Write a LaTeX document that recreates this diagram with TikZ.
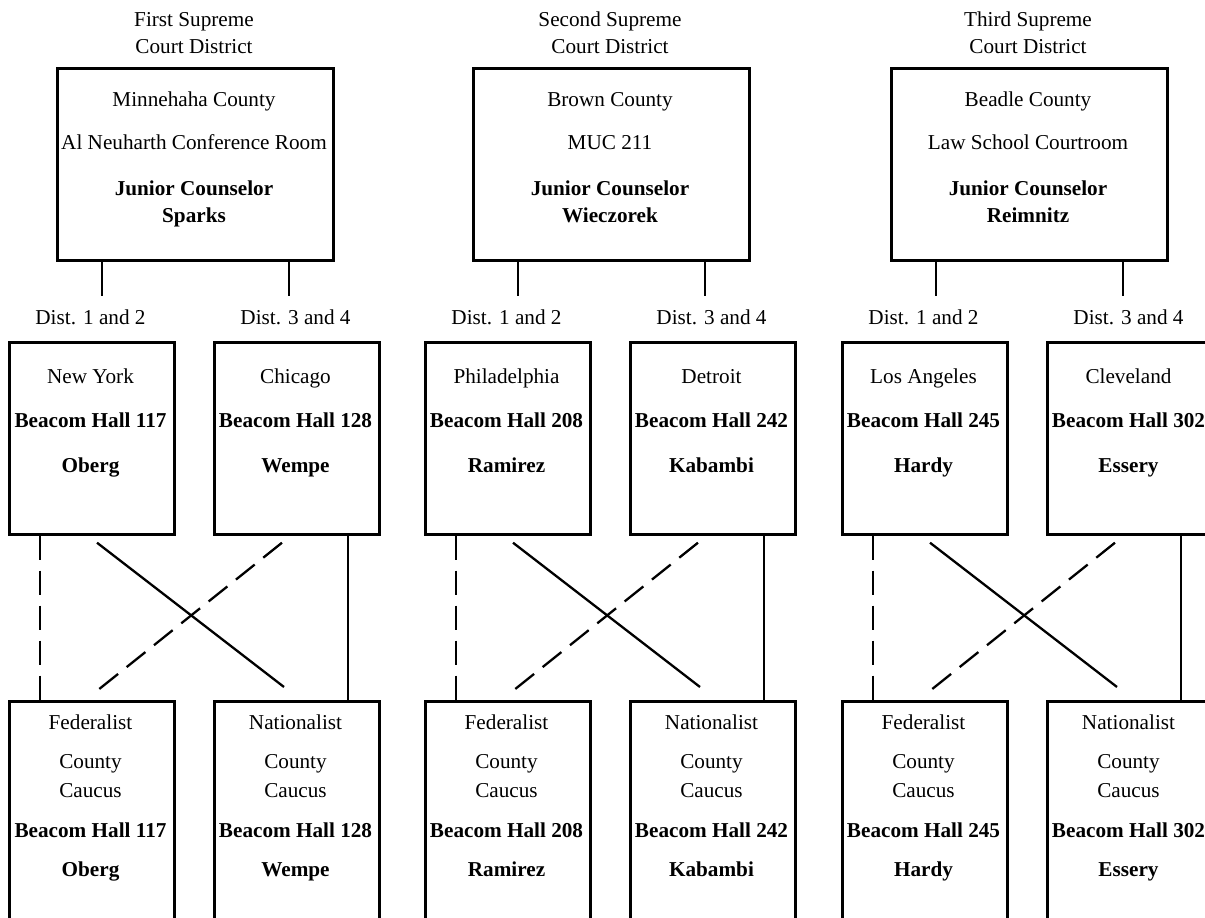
\documentclass[tikz,border=0pt]{standalone}
\usepackage{fontspec}
\setmainfont{Liberation Serif}
\begin{document}
\begin{tikzpicture}[x=1pt,y=-1pt,
  box/.style={draw, line width=2.7pt, inner sep=0pt, anchor=north west},
  topbox/.style={box, minimum width=276pt, minimum height=192pt},
  midbox/.style={box, minimum width=165pt, minimum height=192pt},
  botbox/.style={box, minimum width=165pt, minimum height=280pt},
  txt/.style={anchor=base, inner sep=0pt, font=\fontsize{21.2}{24}\selectfont},
  btxt/.style={anchor=base, inner sep=0pt, font=\fontsize{21.2}{24}\selectfont\bfseries},
  link/.style={line width=2.3pt},
  dlink/.style={line width=2.3pt, dash pattern=on 24pt off 11pt}]
\useasboundingbox (0,0) rectangle (1205,918);
\clip (0,0) rectangle (1205,918);
\foreach \g/\T/\M/\ord/\cty/\room/\jc/\cA/\rA/\nA/\cB/\rB/\nB in {
  1/56/8/First/Minnehaha County/Al Neuharth Conference Room/Sparks/New York/117/Oberg/Chicago/128/Wempe,
  2/472/424/Second/Brown County/MUC 211/Wieczorek/Philadelphia/208/Ramirez/Detroit/242/Kabambi,
  3/890/841/Third/Beadle County/Law School Courtroom/Reimnitz/Los Angeles/245/Hardy/Cleveland/302/Essery}{
  % titles
  \node[txt] (title\g a) at (\T+138,26) {\ord{} Supreme};
  \node[txt] (title\g b) at (\T+138,53) {Court District};
  % top box
  \node[topbox] (top\g) at (\T,67) {};
  \node[txt] (cty\g) at (\T+138,106) {\cty};
  \node[txt] (room\g) at (\T+138,149) {\room};
  \node[btxt] (jc\g) at (\T+138,195) {Junior Counselor};
  \node[btxt] (jcn\g) at (\T+138,222) {\jc};
  \coordinate (stubA\g) at (\T+46,296);
  \coordinate (stubB\g) at (\T+233,296);
  \draw[link] (stubA\g |- top\g.south) -- (stubA\g);
  \draw[link] (stubB\g |- top\g.south) -- (stubB\g);
  % dist labels
  \node[txt] (distA\g) at (\M+82.5,324) {Dist. 1 and 2};
  \node[txt] (distB\g) at (\M+287.5,324) {Dist. 3 and 4};
  % middle boxes
  \node[midbox] (A\g) at (\M,341) {};
  \node[midbox] (B\g) at (\M+205,341) {};
  \node[txt]  at (\M+82.5,383) {\cA};
  \node[btxt] at (\M+82.5,427) {Beacom Hall \rA};
  \node[btxt] at (\M+82.5,472) {\nA};
  \node[txt]  at (\M+287.5,383) {\cB};
  \node[btxt] at (\M+287.5,427) {Beacom Hall \rB};
  \node[btxt] at (\M+287.5,472) {\nB};
  % bottom boxes
  \node[botbox] (FA\g) at (\M,700) {};
  \node[botbox] (FB\g) at (\M+205,700) {};
  \node[txt]  at (\M+82.5,729) {Federalist};
  \node[txt]  at (\M+82.5,768) {County};
  \node[txt]  at (\M+82.5,797) {Caucus};
  \node[btxt] at (\M+82.5,837) {Beacom Hall \rA};
  \node[btxt] at (\M+82.5,876) {\nA};
  \node[txt]  at (\M+287.5,729) {Nationalist};
  \node[txt]  at (\M+287.5,768) {County};
  \node[txt]  at (\M+287.5,797) {Caucus};
  \node[btxt] at (\M+287.5,837) {Beacom Hall \rB};
  \node[btxt] at (\M+287.5,876) {\nB};
  % connectors
  \draw[dlink] ([xshift=32pt]A\g.south west) -- ([xshift=32pt]FA\g.north west);
  \draw[link] ([shift={(89pt,-7pt)}]A\g.south west) -- ([shift={(71pt,13pt)}]FB\g.north west);
  \draw[dlink] ([shift={(69pt,-7pt)}]B\g.south west) -- ([shift={(90pt,10pt)}]FA\g.north west);
  \draw[link] ([xshift=135pt]B\g.south west) -- ([xshift=135pt]FB\g.north west);
}
\end{tikzpicture}
\end{document}
